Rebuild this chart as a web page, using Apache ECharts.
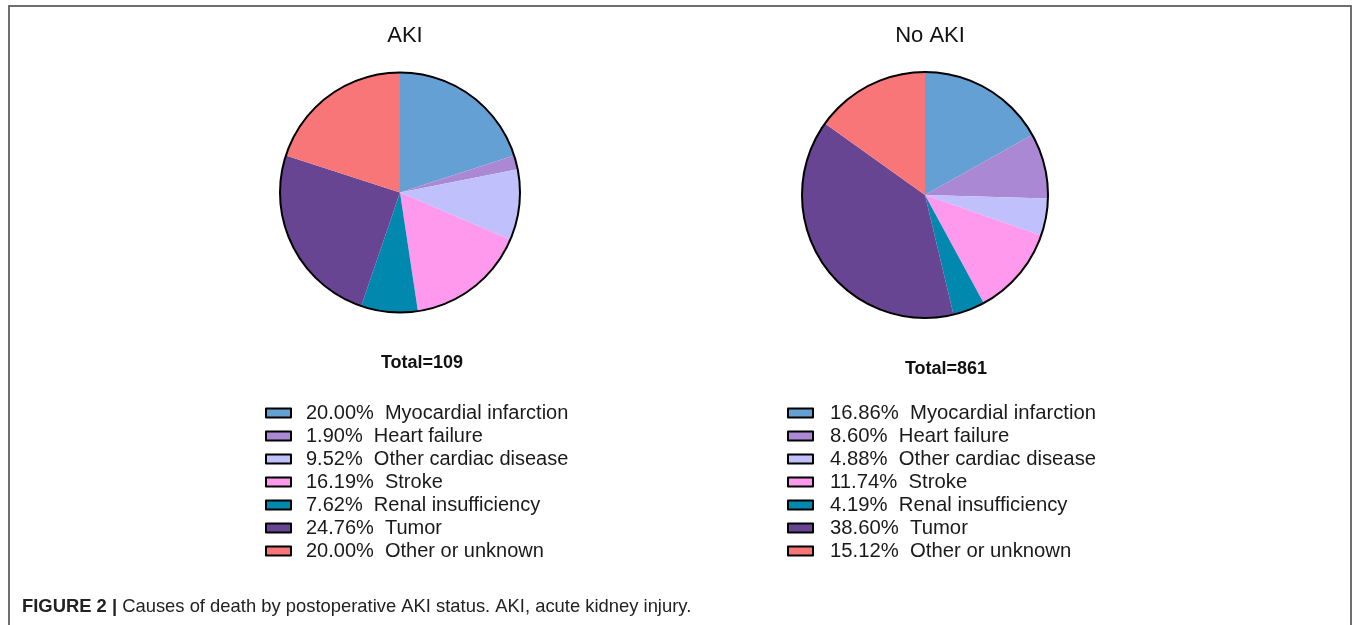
<!DOCTYPE html>
<html>
<head>
<meta charset="utf-8">
<script src="https://cdn.jsdelivr.net/npm/echarts@6/dist/echarts.min.js"></script>
<style>
html,body{margin:0;padding:0;background:#fff;}
#frame{position:absolute;left:8px;top:5px;width:1344px;height:640px;border:2px solid #6e6e6e;border-bottom:none;box-sizing:border-box;}
#chart{position:absolute;left:0;top:0;width:1356px;height:625px;}
</style>
</head>
<body>
<div id="frame"></div>
<div id="chart"></div>
<script>
const causes = ['Myocardial infarction','Heart failure','Other cardiac disease','Stroke','Renal insufficiency','Tumor','Other or unknown'];
const akiValues = [20.00, 1.90, 9.52, 16.19, 7.62, 24.76, 20.00];
const noAkiValues = [16.86, 8.60, 4.88, 11.74, 4.19, 38.60, 15.12];
const colors = ['#65a0d4','#ab88d4','#c0c0fc','#ff99ee','#0088ae','#674592','#f87578'];
const panelTitles = ['AKI','No AKI'];
const totals = ['Total=109','Total=861'];
const caption = ['FIGURE 2 |',' Causes of death by postoperative AKI status. AKI, acute kidney injury.'];

function names(vals){ return vals.map((v,i)=> v.toFixed(2)+'%  '+causes[i]); }
function pieData(vals){ const n = names(vals); return vals.map((v,i)=>({name:n[i], value:v, itemStyle:{color:colors[i]}})); }

const fontFam = 'Liberation Sans, Arial, sans-serif';
const narrow = 'Liberation Sans Narrow, Arial Narrow, Liberation Sans, sans-serif';
const legendCommon = {
  orient:'vertical', icon:'rect', itemWidth:25, itemHeight:9, itemGap:3, padding:0,
  itemStyle:{borderColor:'#000', borderWidth:2},
  selectedMode:false
};
const legendText = (pad, size) => ({fontFamily:fontFam, fontSize:size, color:'#1a1a1a', lineHeight:20, padding:[0,0,0,pad]});
const pieCommon = {type:'pie', startAngle:90, clockwise:true, label:{show:false}, labelLine:{show:false}, silent:true, animation:false, itemStyle:{borderWidth:0}};

const chart = echarts.init(document.getElementById('chart'), null, {renderer:'canvas'});
chart.setOption({
  backgroundColor:'transparent',
  animation:false,
  title:[
    {text:panelTitles[0], left:400, top:20, textAlign:'center', textStyle:{fontFamily:fontFam, fontSize:22, fontWeight:'normal', color:'#111'}},
    {text:panelTitles[1], left:925, top:20, textAlign:'center', textStyle:{fontFamily:fontFam, fontSize:22, fontWeight:'normal', color:'#111'}},
    {text:totals[0], left:417, top:349, textAlign:'center', textStyle:{fontFamily:fontFam, fontSize:18, fontWeight:'bold', color:'#111'}},
    {text:totals[1], left:941, top:355, textAlign:'center', textStyle:{fontFamily:fontFam, fontSize:18, fontWeight:'bold', color:'#111'}},
    {text:'{b|'+caption[0]+'}{n|'+caption[1]+'}', left:22, top:598, padding:0,
     textStyle:{fontWeight:'normal', rich:{
       b:{fontFamily:narrow, fontSize:18.4, fontWeight:'bold', color:'#222'},
       n:{fontFamily:narrow, fontSize:18.4, fontWeight:'normal', color:'#222'}}}}
  ],
  legend:[
    Object.assign({}, legendCommon, {left:265, top:403, data:names(akiValues), textStyle:legendText(10, 20)}),
    Object.assign({}, legendCommon, {left:787, top:403, data:names(noAkiValues), textStyle:legendText(12, 20.3)})
  ],
  series:[
    Object.assign({}, pieCommon, {name:'AKI', center:[400,192.5], radius:120, data:pieData(akiValues)}),
    Object.assign({}, pieCommon, {name:'No AKI', center:[925,195], radius:123, data:pieData(noAkiValues)}),
    Object.assign({}, pieCommon, {name:'outline1', center:[400,192.5], radius:120, z:3, data:[{name:'o1', value:1, itemStyle:{color:'transparent', borderColor:'#000', borderWidth:2}}]}),
    Object.assign({}, pieCommon, {name:'outline2', center:[925,195], radius:123, z:3, data:[{name:'o2', value:1, itemStyle:{color:'transparent', borderColor:'#000', borderWidth:2}}]})
  ]
});
</script>
</body>
</html>
